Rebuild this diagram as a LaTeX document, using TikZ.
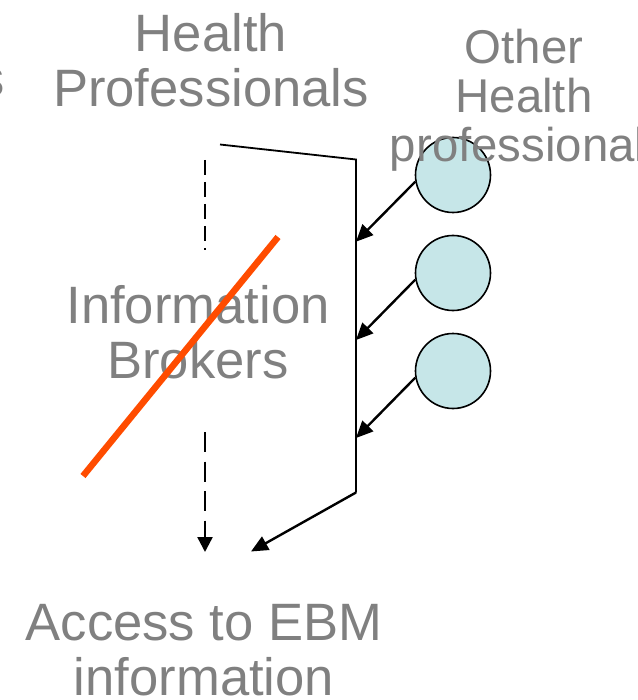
\documentclass[tikz,border=0pt]{standalone}
\usepackage{fontspec}
\setmainfont{Liberation Sans}
\usetikzlibrary{arrows.meta}
\definecolor{txtgray}{RGB}{128,128,128}
\definecolor{bubble}{RGB}{198,230,232}
\definecolor{strike}{RGB}{255,76,0}
\begin{document}
\begin{tikzpicture}[x=1pt,y=-1pt,
  lbl/.style={text=txtgray, align=center, inner sep=0pt, anchor=base, font=\fontsize{52.6}{55}\selectfont},
  lblsmall/.style={lbl, font=\fontsize{47.4}{49.3}\selectfont},
  frame/.style={line width=1.8pt, black},
  feed/.style={line width=2.4pt, black, -{Triangle[length=17pt,width=15pt]}},
  dashA/.style={line width=2.4pt, black, dash pattern=on 15pt off 7pt},
  dashB/.style={line width=2.4pt, black, dash pattern=on 20pt off 9.5pt, -{Triangle[length=15pt,width=15pt]}},
  source/.style={circle, draw=black, line width=1.6pt, fill=bubble, minimum size=75pt, inner sep=0pt},
  cross/.style={line width=6.5pt, strike}]
\useasboundingbox (0,0) rectangle (637,700);

% circles (under the text)
\node[source] (c1) at (453,175) {};
\node[source] (c2) at (453,273) {};
\node[source] (c3) at (453,371) {};

% texts (anchor base = baseline of the last line)
\node[lbl, anchor=base east] (cut) at (5,97) {s};
\node[lbl] (hp) at (211,106.7) {Health\\Professionals};
\node[lblsmall] (ohp) at (524,161.7) {Other\\Health\\\hspace*{11pt}professionals};
\node[lbl] (ib) at (198,378.5) {Information\\Brokers};
\node[lbl] (ebm) at (204,695) {Access to EBM\\information};

% frame
\coordinate (fA) at (220,144.5);
\coordinate (fB) at (356,159.5);
\coordinate (fC) at (356,492.5);
\coordinate (in1) at (356,241.7);
\coordinate (in2) at (356,340);
\coordinate (in3) at (356,438);
\coordinate (out) at (251,551.5);
\draw[frame] (fA) -- (fB) -- (fC);
\draw[feed] (fC) -- (out);

% feeding arrows
\draw[feed] (c1.190) -- (in1);
\draw[feed] (c2.190) -- (in2);
\draw[feed] (c3.190) -- (in3);

% dashed route through brokers
\coordinate (dA) at (205,160);
\coordinate (dB) at (205,250);
\coordinate (dC) at (205,432);
\coordinate (dD) at (205,552);
\draw[dashA] (dA) -- (dB);
\draw[dashB] (dC) -- (dD);

% strike-through
\coordinate (sA) at (278,237);
\coordinate (sB) at (83,476);
\draw[cross] (sA) -- (sB);
\end{tikzpicture}
\end{document}
